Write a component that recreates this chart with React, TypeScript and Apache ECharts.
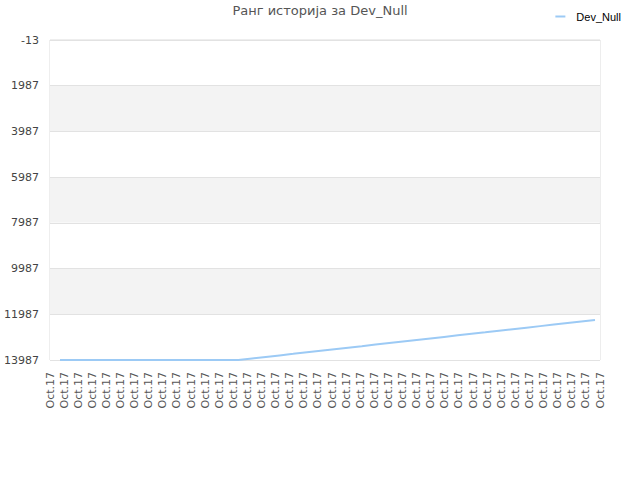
import { useEffect, useRef } from "react";
import * as echarts from "echarts";

// one label per snapshot, all taken the same day
const dateLabels: string[] = Array(40).fill("Oct.17");

const rankValues: number[] = [
  13987, 13987, 13987, 13987, 13987, 13987, 13987, 13987, 13987, 13987,
  13987, 13987, 13987, 13987, 13920, 13852, 13785, 13718, 13650, 13583,
  13515, 13448, 13381, 13313, 13246, 13179, 13111, 13044, 12977, 12909,
  12842, 12775, 12707, 12640, 12573, 12505, 12438, 12371, 12304, 12237,
];

const playerName = "Dev_Null";
const yMin = -13;
const yMax = 13987;
const yStep = 2000;

function App() {
  const chartRef = useRef<HTMLDivElement>(null);

  useEffect(() => {
    document.body.style.margin = "0";
    if (!chartRef.current) return;
    const chart = echarts.init(chartRef.current, null, { renderer: "svg" });

    const font = "DejaVu Sans";

    chart.setOption({
      animation: false,
      backgroundColor: "#fff",
      title: {
        text: "Ранг историја за " + playerName,
        left: "center",
        top: 4,
        padding: 0,
        textStyle: {
          fontFamily: font,
          fontSize: 13,
          fontWeight: "normal",
          color: "#555",
        },
      },
      legend: {
        data: [playerName],
        right: 19,
        top: 11,
        padding: 0,
        icon: "rect",
        itemWidth: 10,
        itemHeight: 2,
        textStyle: {
          fontFamily: "Liberation Sans",
          fontSize: 11,
          color: "#000",
          padding: [0, 0, 0, 6],
        },
      },
      grid: [
        {
          left: 50,
          right: 40,
          top: 40,
          bottom: 120,
          show: true,
          borderColor: "#dcdcdc",
          borderWidth: 1,
          backgroundColor: "transparent",
        },
        { left: 60, right: 45, top: 40, bottom: 120 },
      ],
      xAxis: [
        {
          type: "category",
          gridIndex: 0,
          data: dateLabels,
          boundaryGap: false,
          axisLine: { show: false },
          axisTick: { show: false },
          splitLine: { show: false },
          axisLabel: {
            rotate: 90,
            interval: 0,
            margin: 12,
            fontFamily: font,
            fontSize: 11,
            color: "#555",
          },
        },
        {
          type: "category",
          gridIndex: 1,
          data: rankValues.map((_, i) => String(i)),
          boundaryGap: false,
          show: false,
        },
      ],
      yAxis: [
        {
          type: "value",
          gridIndex: 0,
          inverse: true,
          min: yMin,
          max: yMax,
          interval: yStep,
          axisLine: { show: false },
          axisTick: { show: false },
          axisLabel: {
            margin: 11,
            fontFamily: font,
            fontSize: 11,
            color: "#444",
            formatter: (v: number) => String(v),
          },
          splitLine: { show: true, lineStyle: { color: "#e2e2e2", width: 1 } },
          splitArea: { show: true, areaStyle: { color: ["#ffffff", "#f3f3f3"] } },
        },
        {
          type: "value",
          gridIndex: 1,
          inverse: true,
          min: yMin,
          max: yMax,
          interval: yStep,
          show: false,
          splitLine: { show: false },
        },
      ],
      series: [
        {
          name: playerName,
          type: "line",
          xAxisIndex: 1,
          yAxisIndex: 1,
          data: rankValues,
          symbol: "none",
          clip: false,
          color: "#9ccaf5",
          lineStyle: { width: 2, color: "#9ccaf5" },
        },
      ],
    });

    return () => {
      chart.dispose();
    };
  }, []);

  return <div ref={chartRef} style={{ width: 640, height: 480 }} />;
}

export default App;
